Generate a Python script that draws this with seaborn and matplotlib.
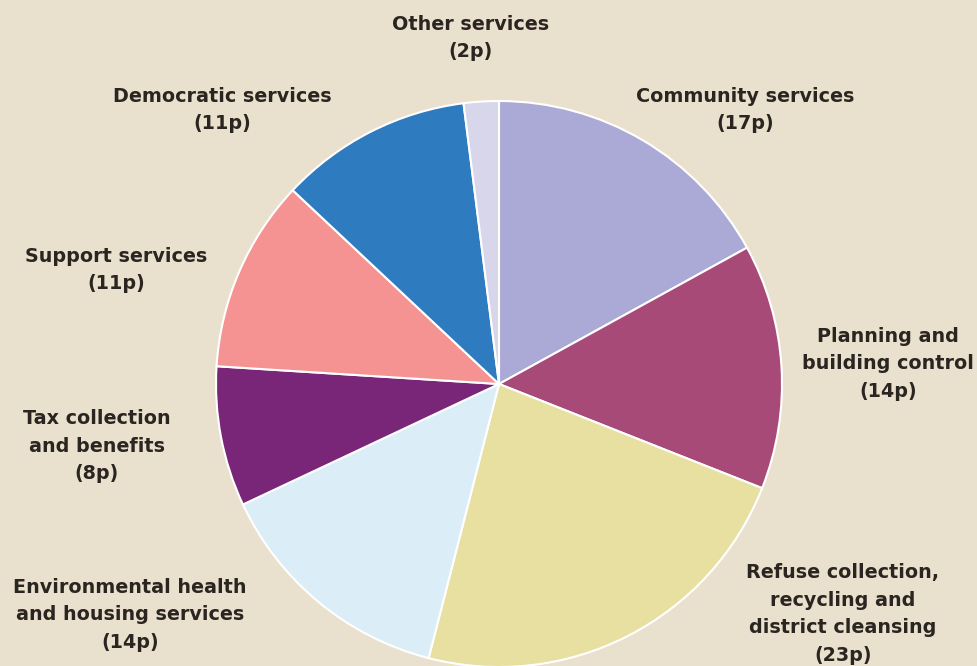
import matplotlib
matplotlib.use("Agg")
import matplotlib.pyplot as plt
import seaborn as sns

# where each council tax pound goes (pence)
categories = ["Community services", "Planning and\nbuilding control",
              "Refuse collection,\nrecycling and\ndistrict cleansing",
              "Environmental health\nand housing services",
              "Tax collection\nand benefits", "Support services",
              "Democratic services", "Other services"]
pence = [17, 14, 23, 14, 8, 11, 11, 2]
colors = ["#aba9d6", "#a84a78", "#e8e0a0", "#dbeef7",
          "#792578", "#f59393", "#2e7bbf", "#d8d6eb"]

# label anchor points in pixels (x, y from top)
label_pos = [(745, 110), (888, 364), (843, 614), (130, 615),
             (97, 446), (116, 270), (222, 110), (471, 38)]

bg = "#e9e1cd"
sns.set_theme(style="white")
plt.rcParams["font.family"] = ["DejaVu Sans"]

fig = plt.figure(figsize=(9.78, 6.66), dpi=100, facecolor=bg)
ax = fig.add_axes([0, 0, 1, 1])
ax.set_facecolor(bg)

W, H = 978, 666
ax.pie(pence, colors=sns.color_palette(colors), startangle=90, counterclock=False,
       radius=283, center=(499, H - 384),
       wedgeprops=dict(edgecolor="white", linewidth=1.5))

for cat, val, (x, y) in zip(categories, pence, label_pos):
    ax.text(x, H - y, f"{cat}\n({val}p)", ha="center", va="center",
            fontsize=13.8, fontweight="bold", color="#2a2520", linespacing=1.58)

ax.set_xlim(0, W)
ax.set_ylim(0, H)
ax.set_aspect("equal")
ax.axis("off")

fig.savefig("out.png", dpi=100, facecolor=bg)
